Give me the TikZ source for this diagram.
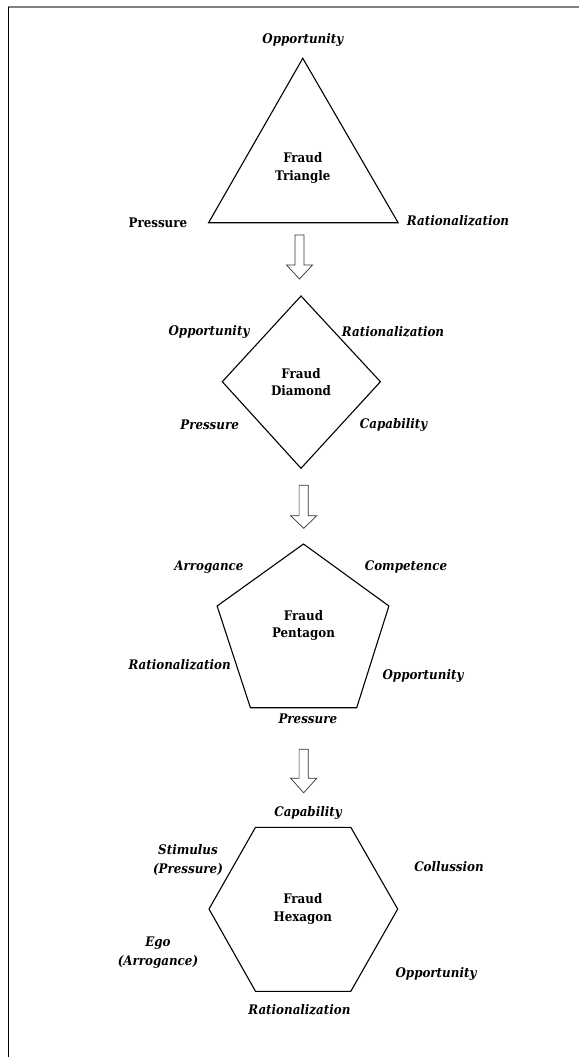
\documentclass[tikz,border=0pt]{standalone}
\usepackage{fontspec}
\newfontfamily\lblfont{DejaVu Serif Condensed}
\begin{document}
\begin{tikzpicture}[x=1pt,y=-1pt,
  lbl/.style={font=\lblfont\fontsize{13.2}{17}\selectfont\bfseries\itshape, inner sep=0pt},
  lblup/.style={font=\lblfont\fontsize{13.2}{17}\selectfont\bfseries, inner sep=0pt},
  ttl/.style={font=\lblfont\fontsize{13.2}{17.5}\selectfont\bfseries, align=center, inner sep=0pt},
  shapeline/.style={draw=black, line width=1.1pt, line join=miter},
  blockarrow/.style={draw=black!80, line width=0.7pt, fill=white, line join=miter}]
\useasboundingbox (0,0) rectangle (579,1057);
% frame
\coordinate (ftl) at (8,7.5);
\coordinate (ftr) at (579,7.5);
\coordinate (fl1) at (8,7.5);
\coordinate (fl2) at (8,1057);
\draw[gray, line width=2pt] (ftl) -- (ftr);
\draw[black, line width=0.8pt] (fl1) -- (fl2);

% ---------- triangle ----------
\coordinate (t1) at (302.8,58.3);
\coordinate (t2) at (398.1,222.7);
\coordinate (t3) at (208.6,222.7);
\draw[shapeline] (t1) -- (t2) -- (t3) -- cycle;
\node[ttl] (tri) at (302.8,168) {Fraud\\Triangle};
\node[lbl] (triO) at (302.8,40) {Opportunity};
\node[lblup] (triP) at (157.9,223) {Pressure};
\node[lbl] (triR) at (458,221) {Rationalization};

% arrow 1
\coordinate (a1) at (299.5,235);
\draw[blockarrow] (a1) ++(-4.5,0) -- ++(0,30) -- ++(-8.5,0) -- ++(13,14) -- ++(13,-14) -- ++(-8.5,0) -- ++(0,-30) -- cycle;

% ---------- diamond ----------
\coordinate (d1) at (301,296);
\coordinate (d2) at (380.4,381.7);
\coordinate (d3) at (301,468.3);
\coordinate (d4) at (222.3,381.7);
\draw[shapeline] (d1) -- (d2) -- (d3) -- (d4) -- cycle;
\node[ttl] (dia) at (301,382) {Fraud\\Diamond};
\node[lbl] (diaO) at (209,331.7) {Opportunity};
\node[lbl] (diaR) at (393,331.7) {Rationalization};
\node[lbl] (diaP) at (209.6,425) {Pressure};
\node[lbl] (diaC) at (393.6,425) {Capability};

% arrow 2
\coordinate (a2) at (303.7,485.3);
\draw[blockarrow] (a2) ++(-4.6,0) -- ++(0,30.5) -- ++(-8.4,0) -- ++(13,12.5) -- ++(13,-12.5) -- ++(-8.4,0) -- ++(0,-30.5) -- cycle;

% ---------- pentagon ----------
\coordinate (p1) at (303.5,544);
\coordinate (p2) at (388.9,606);
\coordinate (p3) at (356.7,707.7);
\coordinate (p4) at (250.4,707.7);
\coordinate (p5) at (217.1,606);
\draw[shapeline] (p1) -- (p2) -- (p3) -- (p4) -- (p5) -- cycle;
\node[ttl] (pen) at (303.5,625.5) {Fraud\\Pentagon};
\node[lbl] (penA) at (209,567.3) {Arrogance};
\node[lbl] (penC) at (406,567.3) {Competence};
\node[lbl] (penR) at (179.6,664.3) {Rationalization};
\node[lbl] (penO) at (423,675.7) {Opportunity};
\node[lbl] (penP) at (307.8,718.3) {Pressure};

% arrow 3
\coordinate (a3) at (303.7,749.3);
\draw[blockarrow] (a3) ++(-4.6,0) -- ++(0,29) -- ++(-8.4,0) -- ++(13,14.5) -- ++(13,-14.5) -- ++(-8.4,0) -- ++(0,-29) -- cycle;

% ---------- hexagon ----------
\coordinate (h1) at (255.5,827.3);
\coordinate (h2) at (350.8,827.3);
\coordinate (h3) at (397.7,909);
\coordinate (h4) at (350.8,991.3);
\coordinate (h5) at (255.5,991.3);
\coordinate (h6) at (209,909);
\draw[shapeline] (h1) -- (h2) -- (h3) -- (h4) -- (h5) -- (h6) -- cycle;
\node[ttl] (hex) at (302.8,909) {Fraud\\Hexagon};
\node[lbl] (hexC) at (308,812.7) {Capability};
\node[lbl, align=center, font=\lblfont\fontsize{13.2}{19}\selectfont\bfseries\itshape] (hexS) at (188,860) {Stimulus\\(Pressure)};
\node[lbl] (hexCo) at (449,866.7) {Collussion};
\node[lbl, align=center, font=\lblfont\fontsize{13.2}{19}\selectfont\bfseries\itshape] (hexE) at (158,952.5) {Ego\\(Arrogance)};
\node[lbl] (hexO) at (436,974.3) {Opportunity};
\node[lbl] (hexR) at (299.4,1010) {Rationalization};
\end{tikzpicture}
\end{document}
